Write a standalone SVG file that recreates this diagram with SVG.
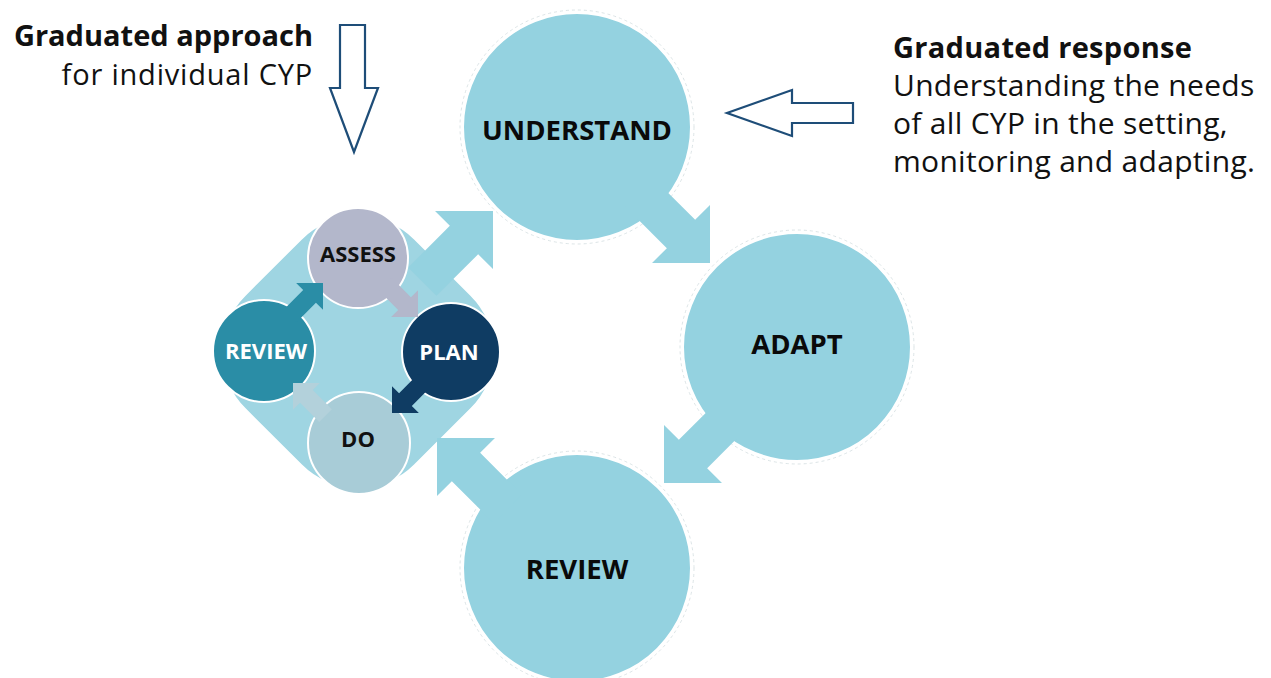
<svg xmlns="http://www.w3.org/2000/svg" width="1271" height="678" viewBox="0 0 1271 678">
  <style>
    .big { fill: #94d2e0; stroke: #ffffff; stroke-width: 2; }
    .halo { fill: none; stroke: #d3dde0; stroke-width: 0.8; stroke-dasharray: 3 3; }
    .sm { stroke: #ffffff; stroke-width: 2; }
    .lbl { font-family: "Open Sans", "Noto Sans", sans-serif; font-weight: 700; text-anchor: middle; }
    .blbl { font-size: 27.5px; fill: #0a0a0a; }
    .slbl { font-size: 22px; }
    .txt { font-family: "Open Sans", "Noto Sans", sans-serif; fill: #111111; }
    .outline { fill: #ffffff; stroke: #1e4d78; stroke-width: 2.2; stroke-linejoin: miter; }
    .barrow { fill: #94d2e0; }
  </style>
  <defs>
    <path id="bigArrow" d="M0,0 L-41,-41 L-41,-20 L-100,-20 L-100,20 L-41,20 L-41,41 Z"/>
    <path id="smallArrow" d="M0,0 L-19,-19 L-19,-9 L-46,-9 L-46,9 L-19,9 L-19,19 Z"/>
  </defs>
  <rect width="1271" height="678" fill="#ffffff"/>

  <!-- annotations -->
  <g id="note-approach">
    <text class="txt" x="313" y="46" font-size="29" font-weight="700" text-anchor="end">Graduated approach</text>
    <text class="txt" x="313" y="85" font-size="29" letter-spacing="0.8" text-anchor="end">for individual CYP</text>
  </g>
  <g id="note-response">
    <text class="txt" x="893" y="58" font-size="29" font-weight="700" letter-spacing="0.3">Graduated response</text>
    <text class="txt" x="893" y="96" font-size="30" letter-spacing="0.3">Understanding the needs</text>
    <text class="txt" x="893" y="134" font-size="30" letter-spacing="0.3">of all CYP in the setting,</text>
    <text class="txt" x="893" y="172" font-size="30" letter-spacing="0.3">monitoring and adapting.</text>
  </g>

  <!-- big cycle nodes -->
  <g id="node-understand">
    <circle class="halo" cx="577" cy="127" r="117"/>
    <circle class="big" cx="577" cy="127" r="114"/>
  </g>
  <g id="node-adapt">
    <circle class="halo" cx="797" cy="347" r="117"/>
    <circle class="big" cx="797" cy="347" r="114"/>
  </g>
  <g id="node-review-big">
    <circle class="halo" cx="577" cy="568" r="117"/>
    <circle class="big" cx="577" cy="568" r="114"/>
  </g>

  <!-- small cluster background -->
  <g id="cluster">
    <rect x="-120" y="-120" width="240" height="240" rx="80" fill="#9fd5e2" stroke="#ffffff" stroke-width="1.5" transform="translate(358 352) rotate(45)"/>
  </g>

  <!-- connectors -->
  <g id="connectors">
    <use href="#bigArrow" class="barrow" transform="translate(493 211) rotate(-45)"/>
    <use href="#bigArrow" class="barrow" transform="translate(710 263) rotate(45)"/>
    <use href="#bigArrow" class="barrow" transform="translate(664 483) rotate(135)"/>
    <use href="#bigArrow" class="barrow" transform="translate(437 438) rotate(225)"/>
    <polygon class="outline" points="340,25 365,25 365,88 378,88 354,152 330,88 340,88"/>
    <polygon class="outline" points="853,103 792,103 792,90 727,113 792,136 792,123 853,123"/>
  </g>

  <!-- small cycle nodes -->
  <g id="node-assess">
    <circle class="sm" cx="358" cy="258" r="50" fill="#b3b7cb"/>
  </g>
  <g id="node-plan">
    <circle class="sm" cx="451" cy="352" r="49" fill="#0f3c63"/>
  </g>
  <g id="node-do">
    <circle class="sm" cx="359" cy="443" r="51" fill="#a8ccd7"/>
  </g>
  <g id="node-review-small">
    <circle class="sm" cx="264" cy="351" r="51" fill="#2a8da6"/>
  </g>

  <g id="small-connectors">
    <use href="#smallArrow" fill="#b3b7cb" transform="translate(418 317) rotate(45)"/>
    <use href="#smallArrow" fill="#0f3c63" transform="translate(392 413) rotate(135)"/>
    <use href="#smallArrow" fill="#b3d1db" transform="translate(293 383) rotate(225)"/>
    <use href="#smallArrow" fill="#2a8da6" transform="translate(323 283) rotate(-45)"/>
  </g>

  <!-- labels -->
  <g id="labels">
    <text class="lbl blbl" x="577" y="140">UNDERSTAND</text>
    <text class="lbl blbl" x="797" y="354">ADAPT</text>
    <text class="lbl blbl" x="577" y="579">REVIEW</text>
    <text class="lbl slbl" x="358" y="262" fill="#111111">ASSESS</text>
    <text class="lbl slbl" x="449" y="360" fill="#ffffff">PLAN</text>
    <text class="lbl slbl" x="266" y="359" fill="#ffffff">REVIEW</text>
    <text class="lbl slbl" x="358" y="447" fill="#111111">DO</text>
  </g>
</svg>
